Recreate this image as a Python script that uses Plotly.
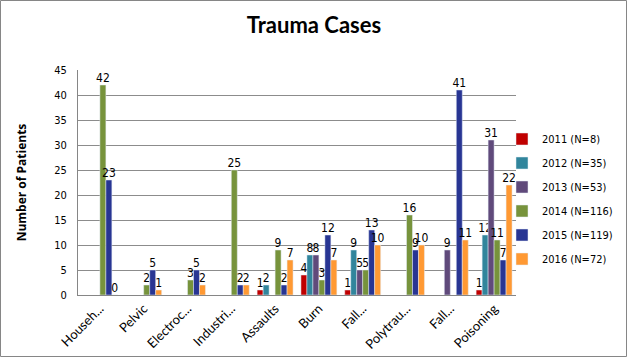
import plotly.graph_objects as go

categories = ["Househ...", "Pelvic", "Electroc...", "Industri...", "Assaults", "Burn",
              "Fall...", "Polytrau...", "Fall...", "Poisoning"]
series_names = ["2011 (N=8)", "2012 (N=35)", "2013 (N=53)", "2014 (N=116)", "2015 (N=119)", "2016 (N=72)"]
v2011 = [None, None, None, None, 1, 4, 1, None, None, 1]
v2012 = [None, None, None, None, 2, 8, 9, None, None, 12]
v2013 = [None, None, None, None, None, 8, 5, None, 9, 31]
v2014 = [42, 2, 3, 25, 9, 3, 5, 16, None, 11]
v2015 = [23, 5, 5, 2, 2, 12, 13, 9, 41, 7]
v2016 = [0, 1, 2, 2, 7, 7, 10, 10, 11, 22]
colors = ["#C00000", "#31859C", "#604A7B", "#77933C", "#283593", "#FF9933"]
y_ticks = [0, 5, 10, 15, 20, 25, 30, 35, 40, 45]

all_series = [v2011, v2012, v2013, v2014, v2015, v2016]
xpos = list(range(len(categories)))

fig = go.Figure()
for name, vals, col in zip(series_names, all_series, colors):
    fig.add_trace(go.Bar(
        x=xpos, y=vals, name=name, marker_color=col,
        text=["" if v is None else str(v) for v in vals],
        textposition="outside", textangle=0, cliponaxis=False,
        constraintext="none",
        textfont=dict(family="DejaVu Sans Condensed", size=12, color="black"),
        legendgroup=name,
    ))

W, H = 628, 358
ml, mr, mt, mb = 78, 112, 70, 63
pw, ph = W - ml - mr, H - mt - mb

fig.update_layout(
    width=W, height=H,
    margin=dict(l=ml, r=mr, t=mt, b=mb, autoexpand=False),
    paper_bgcolor="white", plot_bgcolor="white",
    barmode="group", bargap=0.18, bargroupgap=0,
    title=dict(text="<b>Trauma Cases</b>", x=0.5, xanchor="center", y=1 - 25 / H, yanchor="middle",
               font=dict(family="Lato", size=22, color="black")),
    font=dict(family="DejaVu Sans Condensed", size=11, color="black"),
    showlegend=True,
    legend=dict(x=(502 - ml) / pw, xanchor="left", y=(H - mb - 199) / ph, yanchor="middle",
                font=dict(family="DejaVu Sans Condensed", size=11), tracegroupgap=5,
                itemwidth=30, bgcolor="rgba(0,0,0,0)"),
    xaxis=dict(tickmode="array", tickvals=xpos, ticktext=categories, tickangle=-45,
               range=[-0.5, len(categories) - 0.5], automargin=False,
               tickfont=dict(family="Lato", size=13), showgrid=False,
               showline=True, linecolor="#868686", ticks="", zeroline=False),
    yaxis=dict(range=[0, 45], tickvals=y_ticks, showgrid=True, gridcolor="#8C8C8C",
               showline=True, linecolor="#868686", zeroline=False, ticks="", automargin=False,
               ticklabelstandoff=8,
               tickfont=dict(family="DejaVu Sans Condensed", size=11),
               title=dict(text="<b>Number of Patients</b>", font=dict(family="Open Sans", size=12), standoff=25)),
    shapes=[dict(type="rect", xref="paper", yref="paper",
                 x0=-(ml - 0.5) / pw, x1=(W - ml - 1.5) / pw,
                 y0=-(mb - 1.5) / ph, y1=(H - mb - 0.5) / ph,
                 line=dict(color="#868686", width=1))],
)

fig.write_html("out.html", config={"displayModeBar": False},
               post_script="document.body.style.margin='0';document.body.style.padding='0';")
